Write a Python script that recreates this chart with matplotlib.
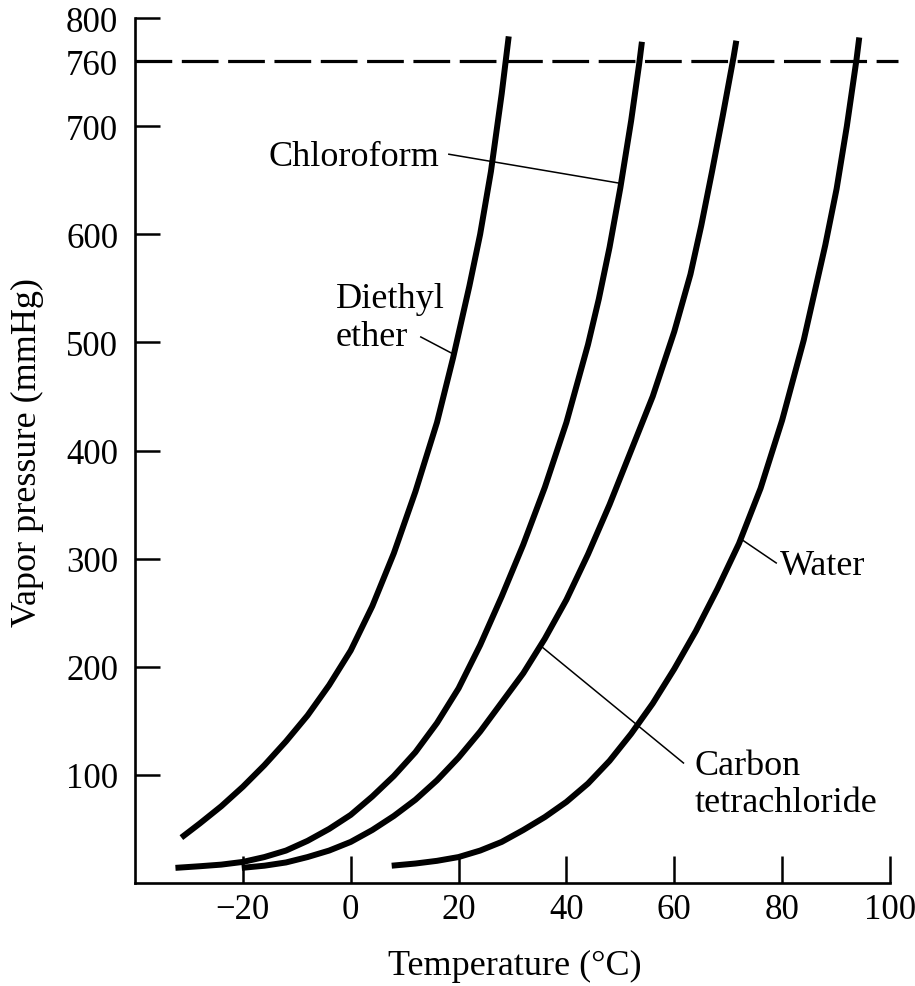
import matplotlib
matplotlib.use('Agg')
import matplotlib.pyplot as plt

# Vapor pressure curves (temperature in C, pressure in mmHg)
ether_T = [-31.4, -28, -24, -20, -16, -12, -8, -4, 0, 4, 8, 12, 16, 19, 22, 24, 26, 28, 29.3]
ether_P = [42, 55, 71, 89, 109, 131, 155, 183, 215, 256, 305, 362, 426, 486, 552, 600, 658, 730, 783]

chloro_T = [-32.5, -28, -24, -20, -16, -12, -8, -4, 0, 4, 8, 12, 16, 20, 24, 28, 32, 36, 40, 44, 46, 48, 50, 52, 53.5, 54]
chloro_P = [14, 15.5, 17, 19.5, 24, 30, 39, 50, 63, 80, 99, 121, 148, 180, 220, 265, 313, 366, 426, 498, 540, 588, 643, 705, 758, 778]

ccl4_T = [-20.2, -16, -12, -8, -4, 0, 4, 8, 12, 16, 20, 24, 28, 32, 36, 40, 44, 48, 52, 56, 60, 63, 65, 67, 69, 71, 71.5]
ccl4_P = [14, 16, 19, 24, 30, 38, 49, 62, 77, 95, 116, 140, 167, 194, 226, 262, 304, 350, 400, 450, 510, 563, 608, 658, 710, 764, 779]

water_T = [7.6, 12, 16, 20, 24, 28, 32, 36, 40, 44, 48, 52, 56, 60, 64, 68, 72, 76, 80, 84, 88, 90.1, 92, 93.8, 94.3]
water_P = [16, 18, 20.5, 24, 30, 38, 49, 61, 75, 92, 113, 138, 166, 198, 233, 272, 314, 365, 428, 502, 590, 642, 700, 762, 782]

x_ticks = [-20, 0, 20, 40, 60, 80, 100]
x_labels = ['\u221220', '0', '20', '40', '60', '80', '100']
y_ticks = [100, 200, 300, 400, 500, 600, 700, 760, 800]
y_labels = ['100', '200', '300', '400', '500', '600', '700', '760', '800']
atm = 760

plt.rcParams['font.family'] = ['Liberation Serif', 'DejaVu Serif']

fig = plt.figure(figsize=(9.15, 9.87), dpi=100)
ax = fig.add_axes([135/915, 1 - 884/987, 755/915, 865/987])

# the four curves
for T, P in [(ether_T, ether_P), (chloro_T, chloro_P), (ccl4_T, ccl4_P), (water_T, water_P)]:
	ax.plot(T, P, color='black', lw=4.3, solid_capstyle='butt', solid_joinstyle='round')

# 1 atm line
ax.plot([-40, 101.5], [atm, atm], color='black', lw=2.3, dashes=(11.5, 3.0), clip_on=False)

# leader lines and labels
lead = dict(color='black', lw=1.1)
ax.plot([18.2, 50.1], [674, 647], **lead)
ax.plot([13.0, 19.1], [505, 489], **lead)
ax.plot([72.4, 78.9], [318, 296], **lead)
ax.plot([35.3, 61.7], [219, 111], **lead)

fs = 26
ax.text(-15.2, 664.5, 'Chloroform', fontsize=fs, va='baseline', ha='left')
ax.text(-2.8, 533, 'Diethyl', fontsize=fs, va='baseline', ha='left')
ax.text(-2.8, 498, 'ether', fontsize=fs, va='baseline', ha='left')
ax.text(79.5, 286, 'Water', fontsize=fs, va='baseline', ha='left')
ax.text(63.7, 101, 'Carbon', fontsize=fs, va='baseline', ha='left')
ax.text(63.7, 66.7, 'tetrachloride', fontsize=fs, va='baseline', ha='left')

ax.set_xlim(-40, 100)
ax.set_ylim(0, 800)
ax.spines['top'].set_visible(False)
ax.spines['right'].set_visible(False)
ax.spines['left'].set_linewidth(1.9)
ax.spines['bottom'].set_linewidth(1.9)

ax.set_xticks(x_ticks)
ax.set_xticklabels(x_labels)
ax.set_yticks(y_ticks)
ax.set_yticklabels(y_labels)
ax.tick_params(axis='x', direction='in', length=19.5, width=1.8, pad=7, labelsize=25)
ax.tick_params(axis='y', direction='in', length=18, width=1.8, pad=12, labelsize=25)

fig.text(27/915, 1 - 453/987, 'Vapor pressure (mmHg)', rotation=90, ha='center', va='center', fontsize=fs)
fig.text(515/915, 1 - 966/987, 'Temperature (\u00b0C)', ha='center', va='center', fontsize=fs)

fig.savefig('out.png', dpi=100)
